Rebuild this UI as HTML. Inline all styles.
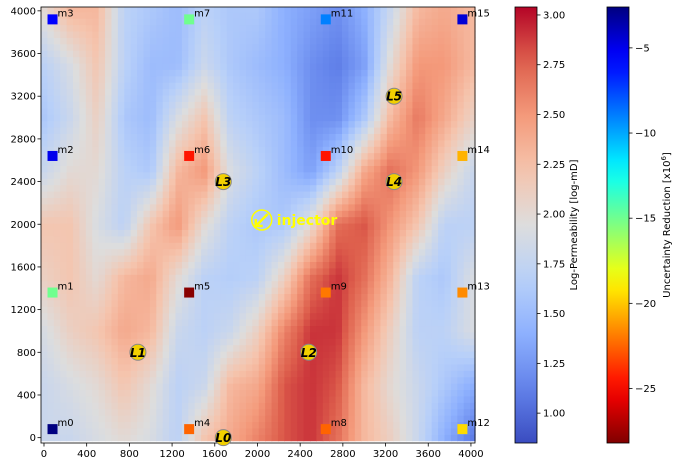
<!DOCTYPE html>
<html><head><meta charset="utf-8"><style>
body{margin:0;background:#fff;}
svg text{font-family:"DejaVu Sans","Liberation Sans",sans-serif;}
</style></head><body>
<svg id="c" width="683" height="466" xmlns="http://www.w3.org/2000/svg">
<g id="heat"></g>
<g id="axes"></g>
<g id="marks"></g>
<g id="cbars"></g>
</svg>
<script>
const gridX=[0,250,500,750,1000,1250,1500,1750,2000,2250,2500,2750,3000,3250,3500,3750,4000];
const gridY=[4000,3500,3000,2500,2000,1500,1000,500,0];
const perm=[
[2.0,2.3,2.3,1.7,1.6,1.5,1.7,1.6,1.6,1.4,1.3,1.2,1.4,1.8,2.3,2.4,2.3],
[1.7,1.9,2.2,1.7,1.5,1.5,1.8,1.6,1.5,1.4,1.2,1.1,1.3,2.0,2.5,2.5,2.3],
[1.6,1.8,2.1,1.6,1.5,1.9,2.2,1.7,1.6,1.5,1.2,1.2,1.6,2.3,2.65,2.4,2.1],
[1.8,2.0,2.0,1.7,1.6,2.3,2.5,1.9,1.7,1.5,1.3,1.7,2.4,2.7,2.5,2.1,1.8],
[2.2,2.2,1.9,1.7,2.2,2.5,2.0,1.7,1.6,1.6,2.0,2.7,2.8,2.5,2.2,1.7,1.7],
[2.1,2.2,2.0,2.3,2.4,2.0,1.7,1.65,1.7,2.1,2.7,2.9,2.7,2.3,1.7,1.6,1.9],
[1.9,2.1,2.2,2.4,2.3,1.8,1.7,1.8,2.1,2.6,2.9,2.9,2.5,2.1,1.7,1.7,1.9],
[1.8,1.9,2.0,2.2,2.0,1.7,1.8,2.3,2.4,2.8,2.9,2.8,2.3,2.0,1.8,1.6,1.4],
[1.8,1.8,1.9,2.0,1.9,1.7,2.2,2.4,2.6,2.8,2.9,2.7,2.3,2.1,1.8,1.4,1.1]];
const monNames=["m0","m1","m2","m3","m4","m5","m6","m7","m8","m9","m10","m11","m12","m13","m14","m15"];
const monX=[80,80,80,80,1360,1360,1360,1360,2640,2640,2640,2640,3920,3920,3920,3920];
const monY=[80,1360,2640,3920,80,1360,2640,3920,80,1360,2640,3920,80,1360,2640,3920];
const monVal=[-2.6,-15,-5,-5.5,-22.5,-28,-24.5,-15,-22.5,-22,-24.5,-9,-19.5,-21.5,-20.5,-4.5];
const leakNames=["L0","L1","L2","L3","L4","L5"];
const leakX=[1680,880,2480,1680,3280,3280];
const leakY=[0,800,800,2400,2400,3200];
const injX=[2040], injY=[2040];
const xTicks=[0,400,800,1200,1600,2000,2400,2800,3200,3600,4000];
const yTicks=[0,400,800,1200,1600,2000,2400,2800,3200,3600,4000];
const permTicks=[1.00,1.25,1.50,1.75,2.00,2.25,2.50,2.75,3.00];
const urTicks=[-5,-10,-15,-20,-25];

const NS="http://www.w3.org/2000/svg";
const PL=41,PR=475,PT=7,PB=443;
const X0=-28,X1=4038,Y0=-50,Y1=4036;
const sx=v=>PL+(v-X0)/(X1-X0)*(PR-PL);
const sy=v=>PB-(v-Y0)/(Y1-Y0)*(PB-PT);
function mk(tag,attrs,parent){const e=document.createElementNS(NS,tag);for(const k in attrs)e.setAttribute(k,attrs[k]);parent.appendChild(e);return e;}
function lerpStops(stops,t){t=Math.max(0,Math.min(1,t));for(let i=1;i<stops.length;i++){if(t<=stops[i][0]){const a=stops[i-1],b=stops[i];const f=(t-a[0])/(b[0]-a[0]||1);return `rgb(${[1,2,3].map(j=>Math.round(a[j]+(b[j]-a[j])*f)).join(',')})`;}}const l=stops[stops.length-1];return `rgb(${l[1]},${l[2]},${l[3]})`;}
const cw=[[0,58,76,192],[0.125,98,130,234],[0.25,141,176,254],[0.375,184,208,249],[0.5,221,221,221],[0.625,245,196,173],[0.75,244,154,123],[0.875,222,96,77],[1,180,4,38]];
const jet=[[0,0,0,128],[0.11,0,0,255],[0.125,0,0,255],[0.375,0,255,255],[0.625,255,255,0],[0.875,255,0,0],[1,128,0,0]];
const PMIN=0.85,PMAX=3.04,UMIN=-28.2,UMAX=-2.6;
const pc=v=>lerpStops(cw,(v-PMIN)/(PMAX-PMIN));
const uc=v=>lerpStops(jet,1-(v-UMIN)/(UMAX-UMIN));
function field(x,y){
  let gx=(x-gridX[0])/(gridX[1]-gridX[0]);gx=Math.max(0,Math.min(gridX.length-1.001,gx));
  let gy=(gridY[0]-y)/(gridY[0]-gridY[1]);gy=Math.max(0,Math.min(gridY.length-1.001,gy));
  const i=Math.floor(gx),j=Math.floor(gy),fx=gx-i,fy=gy-j;
  return perm[j][i]*(1-fx)*(1-fy)+perm[j][i+1]*fx*(1-fy)+perm[j+1][i]*(1-fx)*fy+perm[j+1][i+1]*fx*fy;
}
const heat=document.getElementById('heat');
const step=60;
for(let y=X0;y<Y1;y+=step){for(let x=X0;x<X1;x+=step){
  const r=mk('rect',{x:sx(x).toFixed(2),y:sy(Math.min(y+step,Y1)).toFixed(2),width:(sx(Math.min(x+step,X1))-sx(x)+0.6).toFixed(2),height:(sy(y)-sy(Math.min(y+step,Y1))+0.6).toFixed(2),fill:pc(field(x+step/2,y+step/2))},heat);
  
  
}}
const axes=document.getElementById('axes');
mk('rect',{x:PL,y:PT,width:PR-PL,height:PB-PT,fill:'none',stroke:'#000','stroke-width':0.8},axes);
xTicks.forEach(t=>{mk('line',{x1:sx(t),x2:sx(t),y1:PB,y2:PB+3.5,stroke:'#000','stroke-width':0.8},axes);
  const tx=mk('text',{x:sx(t),y:PB+14,'font-size':10,'text-anchor':'middle',fill:'#000'},axes);tx.textContent=t;
  });
yTicks.forEach(t=>{mk('line',{x1:PL-3.5,x2:PL,y1:sy(t),y2:sy(t),stroke:'#000','stroke-width':0.8},axes);
  const tx=mk('text',{x:PL-5,y:sy(t)+3.5,'font-size':10,'text-anchor':'end',fill:'#000'},axes);tx.textContent=t;
  });
const marks=document.getElementById('marks');
monNames.forEach((n,i)=>{
  const r=mk('rect',{x:sx(monX[i])-5,y:sy(monY[i])-5,width:10,height:10,fill:uc(monVal[i])},marks);
  
  const t=mk('text',{x:sx(monX[i])+5,y:sy(monY[i])-3,'font-size':10,fill:'#000'},marks);t.textContent=n;
  
});
leakNames.forEach((n,i)=>{
  const c=mk('circle',{cx:sx(leakX[i]),cy:sy(leakY[i]),r:8,fill:'#f2d000',stroke:'#888','stroke-width':1},marks);
  
  const t=mk('text',{x:sx(leakX[i]),y:sy(leakY[i])+4.5,'font-size':12,'font-weight':'bold','font-style':'italic','text-anchor':'middle',fill:'#000'},marks);t.textContent=n;
  
});
const ix=sx(injX[0]),iy=sy(injY[0]);
const ic=mk('circle',{cx:ix,cy:iy,r:10,fill:'none',stroke:'#ffff00','stroke-width':1.5},marks);

mk('path',{d:`M${ix+6} ${iy-6} L${ix-5} ${iy+5} M${ix-6} ${iy-1} L${ix-6} ${iy+6} L${ix+1} ${iy+6}`,stroke:'#ffff00','stroke-width':2.5,fill:'none'},marks);
const it=mk('text',{x:ix+15,y:iy+5,'font-size':14,'font-weight':'bold',fill:'#ffff00'},marks);it.textContent='injector';

const cb=document.getElementById('cbars');
const defs=mk('defs',{},cb);
const g1=mk('linearGradient',{id:'g1',x1:0,y1:1,x2:0,y2:0},defs);
for(let k=0;k<=20;k++){const v=PMIN+(PMAX-PMIN)*k/20;mk('stop',{offset:k/20,'stop-color':pc(v)},g1);}
const g2=mk('linearGradient',{id:'g2',x1:0,y1:1,x2:0,y2:0},defs);
for(let k=0;k<=20;k++){const v=UMIN+(UMAX-UMIN)*k/20;mk('stop',{offset:k/20,'stop-color':uc(v)},g2);}
const C1L=515,C2L=607,CW=22;
const b1=mk('rect',{x:C1L,y:PT,width:CW,height:PB-PT,fill:'url(#g1)',stroke:'#000','stroke-width':0.8},cb);

const b2=mk('rect',{x:C2L,y:PT,width:CW,height:PB-PT,fill:'url(#g2)',stroke:'#000','stroke-width':0.8},cb);

const py=v=>PB-(v-PMIN)/(PMAX-PMIN)*(PB-PT);
const uy=v=>PB-(v-UMIN)/(UMAX-UMIN)*(PB-PT);
permTicks.forEach(t=>{mk('line',{x1:C1L+CW,x2:C1L+CW+3.5,y1:py(t),y2:py(t),stroke:'#000','stroke-width':0.8},cb);
  const tx=mk('text',{x:C1L+CW+6,y:py(t)+3.5,'font-size':10,fill:'#000'},cb);tx.textContent=t.toFixed(2);
  });
urTicks.forEach(t=>{mk('line',{x1:C2L+CW,x2:C2L+CW+3.5,y1:uy(t),y2:uy(t),stroke:'#000','stroke-width':0.8},cb);
  const tx=mk('text',{x:C2L+CW+6,y:uy(t)+3.5,'font-size':10,fill:'#000'},cb);tx.textContent='\u2212'+Math.abs(t);
  });
const l1=mk('text',{x:0,y:0,'font-size':10,'text-anchor':'middle',fill:'#000',transform:`translate(577,225) rotate(-90)`},cb);
l1.textContent='Log-Permeability [log-mD]';
const l2=mk('text',{x:0,y:0,'font-size':10,'text-anchor':'middle',fill:'#000',transform:`translate(670,225) rotate(-90)`},cb);
l2.innerHTML='Uncertainty Reduction [x10<tspan dy="-4" font-size="7">6</tspan><tspan dy="4">]</tspan>';

</script>
</body></html>
